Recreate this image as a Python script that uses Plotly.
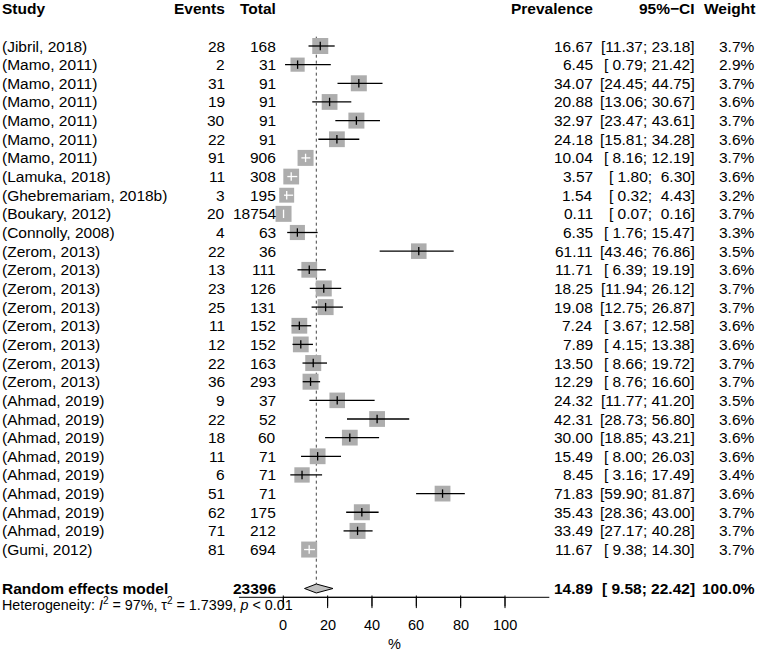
import plotly.graph_objects as go

studies = ["(Jibril, 2018)", "(Mamo, 2011)", "(Mamo, 2011)", "(Mamo, 2011)", "(Mamo, 2011)",
           "(Mamo, 2011)", "(Mamo, 2011)", "(Lamuka, 2018)", "(Ghebremariam, 2018b)",
           "(Boukary, 2012)", "(Connolly, 2008)", "(Zerom, 2013)", "(Zerom, 2013)",
           "(Zerom, 2013)", "(Zerom, 2013)", "(Zerom, 2013)", "(Zerom, 2013)", "(Zerom, 2013)",
           "(Zerom, 2013)", "(Ahmad, 2019)", "(Ahmad, 2019)", "(Ahmad, 2019)", "(Ahmad, 2019)",
           "(Ahmad, 2019)", "(Ahmad, 2019)", "(Ahmad, 2019)", "(Ahmad, 2019)", "(Gumi, 2012)"]
events = [28, 2, 31, 19, 30, 22, 91, 11, 3, 20, 4, 22, 13, 23, 25, 11, 12, 22, 36,
          9, 22, 18, 11, 6, 51, 62, 71, 81]
totals = [168, 31, 91, 91, 91, 91, 906, 308, 195, 18754, 63, 36, 111, 126, 131, 152, 152,
          163, 293, 37, 52, 60, 71, 71, 71, 175, 212, 694]
prev = [16.67, 6.45, 34.07, 20.88, 32.97, 24.18, 10.04, 3.57, 1.54, 0.11, 6.35, 61.11,
        11.71, 18.25, 19.08, 7.24, 7.89, 13.50, 12.29, 24.32, 42.31, 30.00, 15.49, 8.45,
        71.83, 35.43, 33.49, 11.67]
lower = [11.37, 0.79, 24.45, 13.06, 23.47, 15.81, 8.16, 1.80, 0.32, 0.07, 1.76, 43.46,
         6.39, 11.94, 12.75, 3.67, 4.15, 8.66, 8.76, 11.77, 28.73, 18.85, 8.00, 3.16,
         59.90, 28.36, 27.17, 9.38]
upper = [23.18, 21.42, 44.75, 30.67, 43.61, 34.28, 12.19, 6.30, 4.43, 0.16, 15.47, 76.86,
         19.19, 26.12, 26.87, 12.58, 13.38, 19.72, 16.60, 41.20, 56.80, 43.21, 26.03, 17.49,
         81.87, 43.00, 40.28, 14.30]
weights = [3.7, 2.9, 3.7, 3.6, 3.7, 3.6, 3.7, 3.6, 3.2, 3.7, 3.3, 3.5, 3.6, 3.7, 3.7, 3.6,
           3.6, 3.7, 3.7, 3.5, 3.6, 3.6, 3.6, 3.4, 3.6, 3.7, 3.7, 3.7]

pooled_est = 14.89
pooled_lo = 9.58
pooled_hi = 22.42
pooled_total = 23396
pooled_weight = 100.0
het_text = "Heterogeneity: <i>I</i><sup>2</sup> = 97%, τ<sup>2</sup> = 1.7399, <i>p</i> &lt; 0.01"

x_ticks = [0, 20, 40, 60, 80, 100]
x_title = "%"
headers = ["Study", "Events", "Total", "Prevalence", "95%−CI", "Weight"]

# ---------------- layout constants ----------------
W, H = 758, 651
FONT = "Liberation Sans, Arial, Helvetica, sans-serif"
FS = 15.5
PX0, PX100 = 283.3, 505.0            # pixel of x=0 and x=100
PXSCALE = (PX100 - PX0) / 100
x_range = [-PX0 / PXSCALE, (W - PX0) / PXSCALE]
ROW0, ROWH = 46.0, 18.65             # pixel of first row, row height


def rowpx(p):
    """convert a vertical pixel position into row units"""
    return (p - ROW0) / ROWH


y_range = [rowpx(H), rowpx(0)]
SQ = 16.0                              # square side for weight 3.7
SQ_COL = "#adadad"
pooled_row = rowpx(588.5)
header_row = rowpx(8)
het_row = rowpx(604)
AXIS_PX, TICK_PX = 597.3, 9.0
axis_row = rowpx(AXIS_PX)
tick_end_row = rowpx(AXIS_PX + TICK_PX)
tick_mid_row = rowpx(AXIS_PX + TICK_PX / 2)
ticklab_row = rowpx(625)
title_row = rowpx(644)

n = len(studies)
rows = list(range(n))
sides = [SQ * (w / 3.7) ** 0.5 for w in weights]
inside = [(u - l) * PXSCALE < s for l, u, s in zip(lower, upper, sides)]

fig = go.Figure()

# dotted line at pooled estimate
fig.add_trace(go.Scatter(x=[pooled_est, pooled_est], y=[-0.5, pooled_row - 0.24],
                         mode="lines", line=dict(color="#444444", width=1, dash="dot"),
                         hoverinfo="skip", showlegend=False))

# squares
fig.add_trace(go.Scatter(x=prev, y=rows, mode="markers",
                         marker=dict(symbol="square", size=sides, color=SQ_COL, opacity=1,
                                     line=dict(width=0)),
                         hoverinfo="skip", showlegend=False))

# CI lines
for flag, col in [(False, "black"), (True, "white")]:
    xs, ys = [], []
    for i in rows:
        if inside[i] == flag:
            xs += [lower[i], upper[i], None]
            ys += [i, i, None]
    fig.add_trace(go.Scatter(x=xs, y=ys, mode="lines", line=dict(color=col, width=1.3),
                             hoverinfo="skip", showlegend=False))
    fig.add_trace(go.Scatter(x=[prev[i] for i in rows if inside[i] == flag],
                             y=[i for i in rows if inside[i] == flag], mode="markers",
                             marker=dict(symbol="line-ns", size=6, opacity=1,
                                         line=dict(color=col, width=1.3)),
                             hoverinfo="skip", showlegend=False))

# diamond
dh = 0.24
fig.add_trace(go.Scatter(x=[pooled_lo, pooled_est, pooled_hi, pooled_est, pooled_lo],
                         y=[pooled_row, pooled_row - dh, pooled_row, pooled_row + dh, pooled_row],
                         mode="lines", fill="toself", fillcolor="#c0c0c0",
                         line=dict(color="black", width=1),
                         hoverinfo="skip", showlegend=False))

# axis line and tick marks drawn as line markers (built from the tick values)
axis_len_px = (x_ticks[-1] - x_ticks[0]) * PXSCALE
fig.add_trace(go.Scatter(x=[(x_ticks[0] + x_ticks[-1]) / 2], y=[axis_row], mode="markers",
                         marker=dict(symbol="line-ew", size=axis_len_px, opacity=1,
                                     line=dict(color="black", width=1)),
                         hoverinfo="skip", showlegend=False, cliponaxis=False))
fig.add_trace(go.Scatter(x=x_ticks, y=[tick_mid_row] * len(x_ticks), mode="markers",
                         marker=dict(symbol="line-ns", size=TICK_PX, opacity=1,
                                     line=dict(color="black", width=1)),
                         hoverinfo="skip", showlegend=False, cliponaxis=False))

# same axis as shapes too
shapes = [dict(type="line", xref="x", yref="y", x0=x_ticks[0], x1=x_ticks[-1],
               y0=axis_row, y1=axis_row, line=dict(color="black", width=1), layer="above")]
for t in x_ticks:
    shapes.append(dict(type="line", xref="x", yref="y", x0=t, x1=t, y0=axis_row,
                       y1=tick_end_row, line=dict(color="black", width=1), layer="above"))

# ---------------- text ----------------
ann = []
col_x = {"study": 1, "events": 226, "total": 277, "prev": 593.5, "ci": 696, "weight": 756}


def txt(px, row, s, anchor, bold=False, size=FS):
    if bold:
        s = "<b>" + s + "</b>"
    ann.append(dict(x=px / W, xref="paper", y=row, yref="y", text=s, showarrow=False,
                    xanchor=anchor, yanchor="middle", font=dict(size=size, color="black"),
                    borderpad=0))


def nb(s):
    return s.replace(" ", "\u00a0")


hx = [col_x["study"], col_x["events"], col_x["total"], col_x["prev"], col_x["ci"], col_x["weight"]]
for k, h in enumerate(headers):
    txt(hx[k], header_row, h, "left" if k == 0 else "right", bold=True)

for i in rows:
    txt(col_x["study"], i, studies[i], "left")
    txt(col_x["events"], i, str(events[i]), "right")
    txt(col_x["total"], i, str(totals[i]), "right")
    txt(col_x["prev"], i, f"{prev[i]:.2f}", "right")
    txt(col_x["ci"], i, nb(f"[{lower[i]:5.2f}; {upper[i]:5.2f}]"), "right")
    txt(col_x["weight"], i, f"{weights[i]:.1f}%", "right")

txt(col_x["study"], pooled_row, "Random effects model", "left", bold=True)
txt(col_x["total"], pooled_row, str(pooled_total), "right", bold=True)
txt(col_x["prev"], pooled_row, f"{pooled_est:.2f}", "right", bold=True)
txt(col_x["ci"], pooled_row, nb(f"[{pooled_lo:5.2f}; {pooled_hi:5.2f}]"), "right", bold=True)
txt(col_x["weight"], pooled_row, f"{pooled_weight:.1f}%", "right", bold=True)
txt(col_x["study"], het_row, het_text, "left", size=14.3)

# tick labels and axis title
for t in x_ticks:
    ann.append(dict(x=t, xref="x", y=ticklab_row, yref="y", text=str(t), showarrow=False,
                    xanchor="center", yanchor="middle", font=dict(size=14.5, color="black"),
                    borderpad=0))
ann.append(dict(x=(x_ticks[0] + x_ticks[-1]) / 2, xref="x", y=title_row, yref="y",
                text=x_title, showarrow=False, xanchor="center", yanchor="middle",
                font=dict(size=14.5, color="black"), borderpad=0))

fig.update_layout(
    width=W, height=H,
    margin=dict(l=0, r=0, t=0, b=0, pad=0, autoexpand=False),
    paper_bgcolor="white", plot_bgcolor="white",
    font=dict(family=FONT, size=FS, color="black"),
    annotations=ann, shapes=shapes,
    xaxis=dict(range=x_range, visible=False, showgrid=False, zeroline=False,
               automargin=False, fixedrange=True),
    yaxis=dict(range=y_range, visible=False, showgrid=False, zeroline=False,
               automargin=False, fixedrange=True),
    showlegend=False,
)

fig.write_html("out.html", config={"displayModeBar": False},
               post_script="document.body.style.margin='0px';")
